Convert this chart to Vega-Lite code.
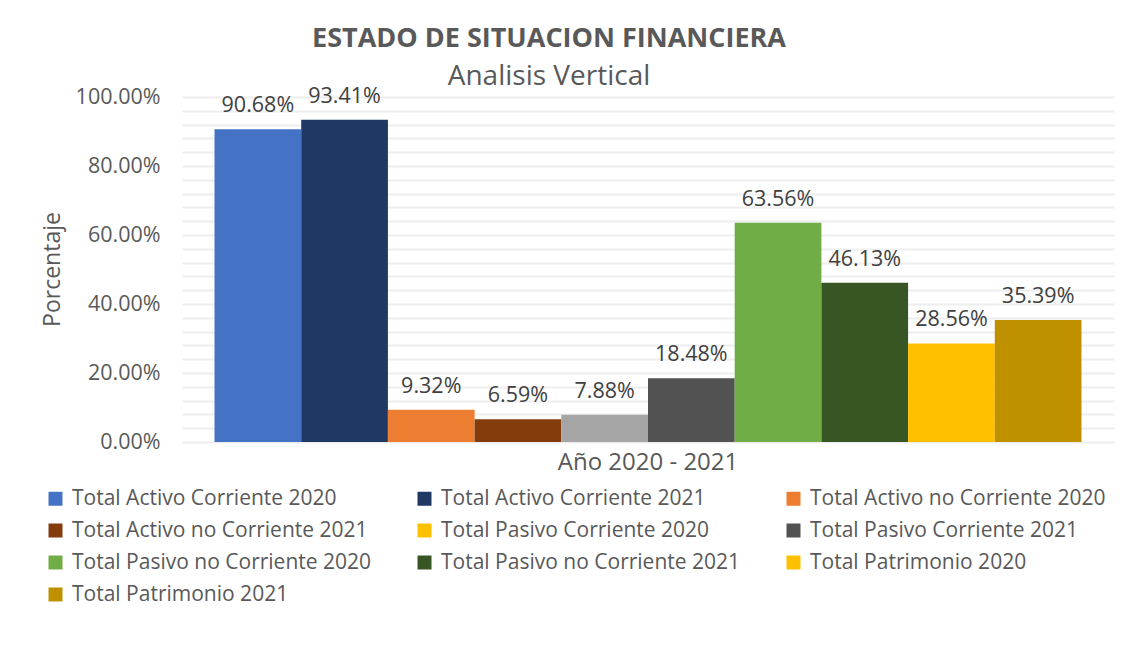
{
  "$schema": "https://vega.github.io/schema/vega-lite/v6.json",
  "autosize": {"type": "none"},
  "width": 932,
  "height": 345,
  "padding": {"left": 182, "top": 97, "right": 17, "bottom": 205},
  "background": "white",
  "config": {
    "view": {"stroke": null},
    "font": "Open Sans"
  },
  "title": {
    "text": "ESTADO DE SITUACION FINANCIERA",
    "subtitle": "Analisis Vertical",
    "anchor": "middle",
    "frame": "group",
    "dx": -99,
    "offset": -6,
    "fontSize": 27,
    "fontWeight": "bold",
    "color": "#595959",
    "subtitleFontSize": 28,
    "subtitleColor": "#595959",
    "subtitlePadding": 10,
    "font": "Open Sans",
    "subtitleFont": "Open Sans"
  },
  "data": {
    "values": [
      {"grupo": "Año 2020 - 2021", "cat": "Total Activo Corriente 2020", "valor": 0.9068},
      {"grupo": "Año 2020 - 2021", "cat": "Total Activo Corriente 2021", "valor": 0.9341},
      {"grupo": "Año 2020 - 2021", "cat": "Total Activo no Corriente 2020", "valor": 0.0932},
      {"grupo": "Año 2020 - 2021", "cat": "Total Activo no Corriente 2021", "valor": 0.0659},
      {"grupo": "Año 2020 - 2021", "cat": "Total Pasivo Corriente 2020", "valor": 0.0788},
      {"grupo": "Año 2020 - 2021", "cat": "Total Pasivo Corriente 2021", "valor": 0.1848},
      {"grupo": "Año 2020 - 2021", "cat": "Total Pasivo no Corriente 2020", "valor": 0.6356},
      {"grupo": "Año 2020 - 2021", "cat": "Total Pasivo no Corriente 2021", "valor": 0.4613},
      {"grupo": "Año 2020 - 2021", "cat": "Total Patrimonio 2020", "valor": 0.2856},
      {"grupo": "Año 2020 - 2021", "cat": "Total Patrimonio 2021", "valor": 0.3539}
    ]
  },
  "encoding": {
    "x": {
      "field": "grupo",
      "type": "nominal",
      "scale": {"paddingInner": 0, "paddingOuter": 0.0375},
      "axis": {
        "title": null,
        "labelAngle": 0,
        "ticks": false,
        "domain": false,
        "labelFontSize": 24,
        "labelColor": "#595959",
        "labelPadding": 8,
        "labelLimit": 500,
        "labelFont": "Open Sans"
      }
    },
    "xOffset": {
      "field": "cat",
      "type": "nominal",
      "sort": null,
      "scale": {"paddingInner": 0, "paddingOuter": 0}
    },
    "y": {
      "field": "valor",
      "type": "quantitative",
      "scale": {"domain": [0, 1], "nice": false},
      "axis": {
        "title": "Porcentaje",
        "titleFontSize": 23,
        "titleFontWeight": "normal",
        "titleColor": "#595959",
        "titleFont": "Open Sans",
        "titleX": -130,
        "titleY": 172,
        "titleAngle": -90,
        "titleAlign": "center",
        "titleBaseline": "middle",
        "values": [0, 0.04, 0.08, 0.12, 0.16, 0.2, 0.24, 0.28, 0.32, 0.36, 0.4, 0.44, 0.48, 0.52, 0.56, 0.6, 0.64, 0.68, 0.72, 0.76, 0.8, 0.84, 0.88, 0.92, 0.96, 1],
        "format": ".2%",
        "labelExpr": "abs(datum.value*5 - round(datum.value*5)) < 0.001 ? datum.label : ''",
        "ticks": false,
        "domain": false,
        "gridColor": "#EEEEEE",
        "gridWidth": 2,
        "labelFontSize": 21.5,
        "labelColor": "#595959",
        "labelPadding": 22,
        "labelFont": "Open Sans"
      }
    }
  },
  "layer": [
    {
      "mark": {"type": "bar"},
      "encoding": {
        "color": {
          "condition": {"test": "datum.cat === 'Total Pasivo Corriente 2020'", "value": "#A5A5A5"},
          "field": "cat",
          "type": "nominal",
          "sort": null,
          "scale": {
            "domain": [
              "Total Activo Corriente 2020", "Total Activo Corriente 2021",
              "Total Activo no Corriente 2020", "Total Activo no Corriente 2021",
              "Total Pasivo Corriente 2020", "Total Pasivo Corriente 2021",
              "Total Pasivo no Corriente 2020", "Total Pasivo no Corriente 2021",
              "Total Patrimonio 2020", "Total Patrimonio 2021"
            ],
            "range": ["#4472C4", "#203864", "#ED7D31", "#843C0C", "#FFC000", "#525252", "#70AD47", "#375623", "#FFC000", "#BF9000"]
          },
          "legend": {
            "title": null,
            "orient": "none",
            "legendX": -137,
            "legendY": 391,
            "direction": "horizontal",
            "columns": 3,
            "symbolType": "square",
            "symbolSize": 196,
            "symbolStrokeWidth": 0,
            "labelFontSize": 21,
            "labelColor": "#595959",
            "labelFont": "Open Sans",
            "labelOffset": 6,
            "labelLimit": 450,
            "gridAlign": "all",
            "columnPadding": 42,
            "rowPadding": 10
          }
        }
      }
    },
    {
      "mark": {"type": "text", "baseline": "bottom", "dy": -12, "fontSize": 21.5, "color": "#404040", "font": "Open Sans"},
      "encoding": {
        "text": {"field": "valor", "type": "quantitative", "format": ".2%"}
      }
    }
  ]
}
